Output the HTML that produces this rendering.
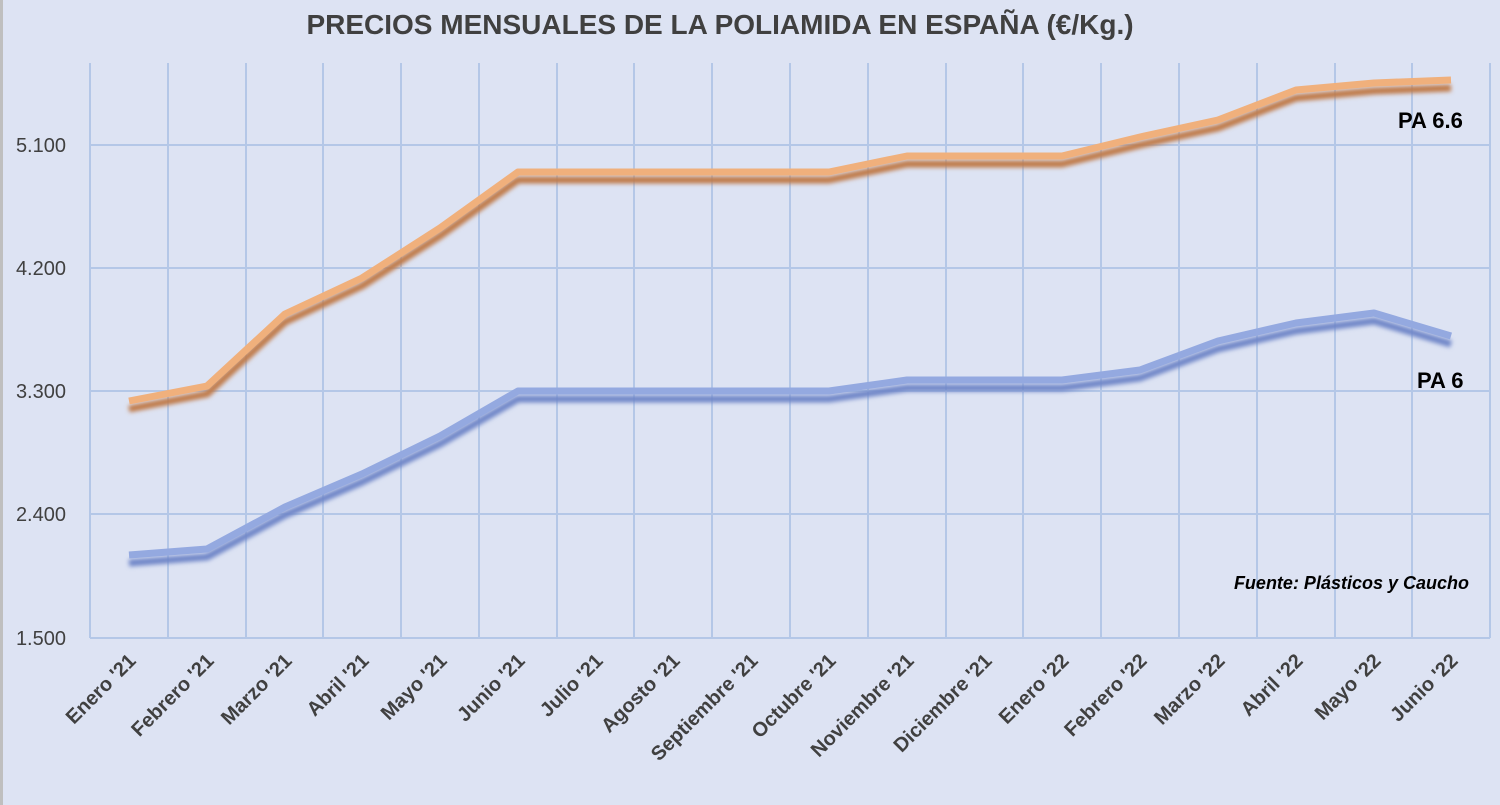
<!DOCTYPE html>
<html><head><meta charset="utf-8"><style>
body{margin:0;background:#dde3f3;}
svg{display:block;font-family:"Liberation Sans",sans-serif;}
</style></head><body>
<svg width="1500" height="805" viewBox="0 0 1500 805">
<defs><filter id="b" x="-5%" y="-20%" width="110%" height="140%"><feGaussianBlur stdDeviation="2"/></filter></defs>
<rect width="1500" height="805" fill="#dde3f3"/>
<rect x="0" y="0" width="3" height="805" fill="#bfbfbf"/>
<text x="720" y="34" text-anchor="middle" font-size="28" font-weight="bold" fill="#404040">PRECIOS MENSUALES DE LA POLIAMIDA EN ESPAÑA (€/Kg.)</text>
<g stroke="#b4c7e7" stroke-width="2">
<line x1="90" y1="145" x2="1490" y2="145"/><line x1="90" y1="268" x2="1490" y2="268"/><line x1="90" y1="391" x2="1490" y2="391"/><line x1="90" y1="514" x2="1490" y2="514"/><line x1="90" y1="638" x2="1490" y2="638"/>
<line x1="90" y1="63" x2="90" y2="638"/><line x1="168" y1="63" x2="168" y2="638"/><line x1="246" y1="63" x2="246" y2="638"/><line x1="323" y1="63" x2="323" y2="638"/><line x1="401" y1="63" x2="401" y2="638"/><line x1="479" y1="63" x2="479" y2="638"/><line x1="557" y1="63" x2="557" y2="638"/><line x1="634" y1="63" x2="634" y2="638"/><line x1="712" y1="63" x2="712" y2="638"/><line x1="790" y1="63" x2="790" y2="638"/><line x1="868" y1="63" x2="868" y2="638"/><line x1="946" y1="63" x2="946" y2="638"/><line x1="1023" y1="63" x2="1023" y2="638"/><line x1="1101" y1="63" x2="1101" y2="638"/><line x1="1179" y1="63" x2="1179" y2="638"/><line x1="1257" y1="63" x2="1257" y2="638"/><line x1="1335" y1="63" x2="1335" y2="638"/><line x1="1412" y1="63" x2="1412" y2="638"/><line x1="1490" y1="63" x2="1490" y2="638"/>
</g>
<g font-size="20" fill="#404040" text-anchor="end">
<text x="66" y="152">5.100</text><text x="66" y="275">4.200</text><text x="66" y="398">3.300</text><text x="66" y="521">2.400</text><text x="66" y="645">1.500</text>
</g>
<g fill="none" stroke-linejoin="round" stroke-width="7">
<polyline transform="translate(0,8)" filter="url(#b)" stroke="#c07a4a" points="129,401 207,386 285,314 362,278 440,228 518,172 596,172 673,172 751,172 829,172 907,156 985,156 1062,156 1140,137 1218,120 1296,90 1374,83 1451,80"/>
<polyline stroke="#f0b07c" points="129,401 207,386 285,314 362,278 440,228 518,172 596,172 673,172 751,172 829,172 907,156 985,156 1062,156 1140,137 1218,120 1296,90 1374,83 1451,80"/>
<polyline transform="translate(0,8)" filter="url(#b)" stroke="#6f86c8" points="129,555 207,549 285,507 362,474 440,436 518,391 596,391 673,391 751,391 829,391 907,380 985,380 1062,380 1140,370 1218,341 1296,323 1374,313 1451,336"/>
<polyline stroke="#94a9e0" points="129,555 207,549 285,507 362,474 440,436 518,391 596,391 673,391 751,391 829,391 907,380 985,380 1062,380 1140,370 1218,341 1296,323 1374,313 1451,336"/>
</g>
<text x="1398" y="128" font-size="22" font-weight="bold" fill="#000">PA 6.6</text>
<text x="1417" y="388" font-size="22" font-weight="bold" fill="#000">PA 6</text>
<text x="1469" y="589" text-anchor="end" font-size="18" font-weight="bold" font-style="italic" fill="#000">Fuente: Plásticos y Caucho</text>
<g font-size="20" font-weight="bold" fill="#404040" text-anchor="end">
<text transform="translate(137,662) rotate(-45)">Enero '21</text>
<text transform="translate(215,662) rotate(-45)">Febrero '21</text>
<text transform="translate(293,662) rotate(-45)">Marzo '21</text>
<text transform="translate(370,662) rotate(-45)">Abril '21</text>
<text transform="translate(448,662) rotate(-45)">Mayo '21</text>
<text transform="translate(526,662) rotate(-45)">Junio '21</text>
<text transform="translate(604,662) rotate(-45)">Julio '21</text>
<text transform="translate(681,662) rotate(-45)">Agosto '21</text>
<text transform="translate(759,662) rotate(-45)">Septiembre '21</text>
<text transform="translate(837,662) rotate(-45)">Octubre '21</text>
<text transform="translate(915,662) rotate(-45)">Noviembre '21</text>
<text transform="translate(993,662) rotate(-45)">Diciembre '21</text>
<text transform="translate(1070,662) rotate(-45)">Enero '22</text>
<text transform="translate(1148,662) rotate(-45)">Febrero '22</text>
<text transform="translate(1226,662) rotate(-45)">Marzo '22</text>
<text transform="translate(1304,662) rotate(-45)">Abril '22</text>
<text transform="translate(1382,662) rotate(-45)">Mayo '22</text>
<text transform="translate(1459,662) rotate(-45)">Junio '22</text>
</g>
</svg>
</body></html>
